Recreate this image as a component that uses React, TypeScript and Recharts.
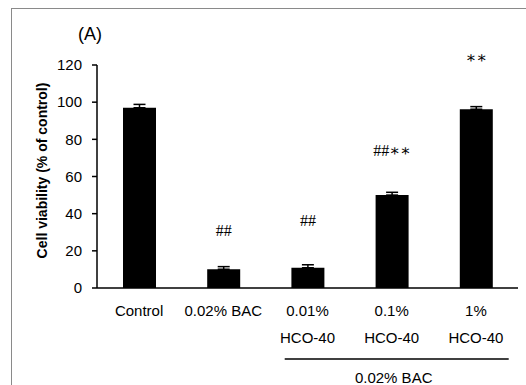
import React from 'react';
import { ComposedChart, Bar, XAxis, YAxis, ErrorBar, LabelList } from 'recharts';

// groups along the x axis, first and second label line
const labelTop = ['Control', '0.02% BAC', '0.01%', '0.1%', '1%'];
const labelBottom = ['', '', 'HCO-40', 'HCO-40', 'HCO-40'];
const viability = [97, 10.1, 10.9, 50, 96.2];
const sem = [1.8, 1.4, 1.6, 1.5, 1.4];
const marks = ['', '##', '##', '##∗∗', '∗∗'];
const markAt = [0, 31, 36.5, 74.2, 123.8];
const yTicks = [0, 20, 40, 60, 80, 100, 120];

const data = labelTop.map((name, i) => ({
  name,
  sub: labelBottom[i],
  value: viability[i],
  err: [0, sem[i]],
  mark: marks[i],
  markAt: markAt[i],
}));

const font = '"Liberation Sans", Arial, sans-serif';

const GroupTick = (props: any) => {
  const { x, y, index } = props;
  const d = data[index];
  return (
    <g>
      <text x={x} y={y + 22} textAnchor="middle" dominantBaseline="central" fontSize={15} fontFamily={font} fill="#000">
        {d.name}
      </text>
      {d.sub && (
        <text x={x} y={y + 49} textAnchor="middle" dominantBaseline="central" fontSize={15} fontFamily={font} fill="#000">
          {d.sub}
        </text>
      )}
      {index === 3 && (
        <g>
          <line x1={x - 107} x2={x + 117} y1={y + 71} y2={y + 71} stroke="#000" strokeWidth={1.5} />
          <text x={x + 2} y={y + 89} textAnchor="middle" dominantBaseline="central" fontSize={15} fontFamily={font} fill="#000">
            0.02% BAC
          </text>
        </g>
      )}
    </g>
  );
};

// significance marks, placed by the bar's own scale (height / value)
const MarkLabel = (props: any) => {
  const { x, y, width, height, index } = props;
  const d = data[index];
  if (!d.mark) return null;
  const perUnit = height / d.value;
  const cy = y + height - d.markAt * perUnit;
  return (
    <text x={x + width / 2} y={cy} textAnchor="middle" dominantBaseline="central" fontSize={16} fontFamily='"Liberation Serif", "DejaVu Serif", serif' fill="#000">
      {d.mark}
    </text>
  );
};

export default function App() {
  return (
    <div style={{ position: 'absolute', left: 0, top: 0, width: 526, height: 385, background: '#fff', overflow: 'hidden' }}>
      <div style={{ position: 'absolute', left: 11, top: 8, width: 530, height: 390, borderTop: '1.5px solid #8a8a8a', borderLeft: '1.5px solid #8a8a8a' }} />
      <div style={{ position: 'absolute', left: 78, top: 24, fontFamily: font, fontSize: 18, lineHeight: '20px', color: '#000' }}>(A)</div>
      <div style={{ position: 'absolute', left: 0, top: 0 }}>
        <ComposedChart width={526} height={385} data={data} margin={{ top: 65, right: 8, left: 0, bottom: 0 }}>
          <XAxis
            dataKey="name"
            height={97}
            tickLine={false}
            tickSize={0}
            tickMargin={0}
            axisLine={{ stroke: '#000', strokeWidth: 1.5 }}
            tick={<GroupTick />}
            interval={0}
          />
          <YAxis
            width={97}
            domain={[0, 120]}
            ticks={yTicks}
            allowDataOverflow
            tickSize={5}
            tickMargin={10}
            axisLine={{ stroke: '#000', strokeWidth: 1.5 }}
            tickLine={{ stroke: '#000', strokeWidth: 1.5 }}
            tick={{ fill: '#000', fontSize: 15, fontFamily: font }}
            label={{
              value: 'Cell viability (% of control)',
              angle: -90,
              position: 'insideLeft',
              dx: 37,
              dy: -6,
              style: { textAnchor: 'middle', fill: '#000', fontSize: 14, fontWeight: 'bold', fontFamily: font },
            }}
          />
          <Bar dataKey="value" fill="#000" barSize={33} isAnimationActive={false}>
            <ErrorBar dataKey="err" direction="y" width={6} stroke="#000" strokeWidth={1.5} />
            <LabelList dataKey="mark" content={<MarkLabel />} />
          </Bar>
        </ComposedChart>
      </div>
    </div>
  );
}
